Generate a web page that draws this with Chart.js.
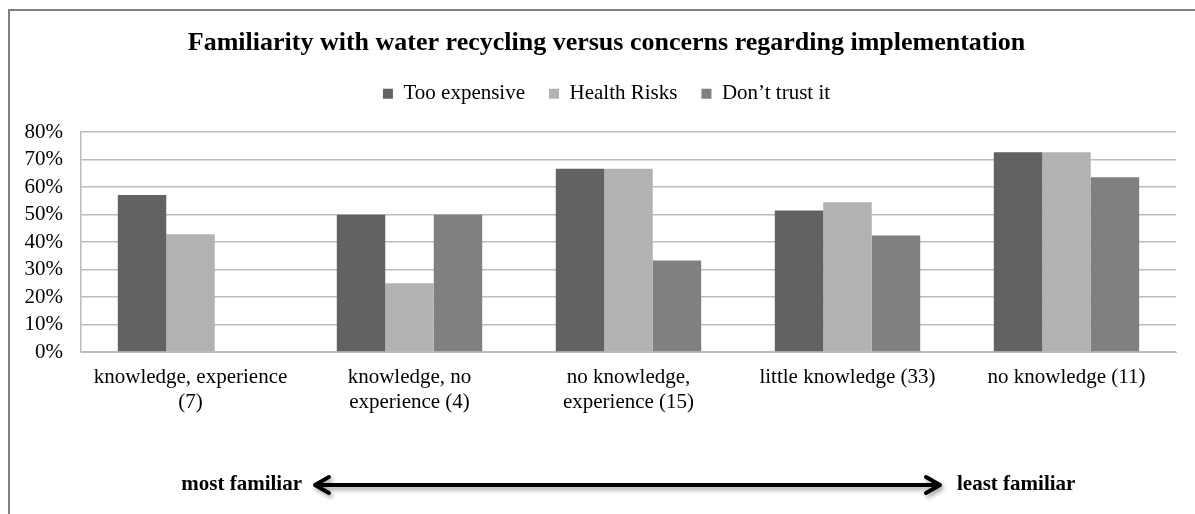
<!DOCTYPE html>
<html>
<head>
<meta charset="utf-8">
<title>Familiarity with water recycling</title>
<script src="https://cdn.jsdelivr.net/npm/chart.js@4.4.1/dist/chart.umd.min.js"></script>
<style>
  body { margin: 0; background: #fff; }
  #wrap { position: relative; width: 1195px; height: 514px; }
</style>
</head>
<body>
<div id="wrap"><canvas id="familiarity"></canvas></div>
<script>
// groups of respondents, number in brackets = group size
var groups = [
  ['knowledge, experience', '(7)'],
  ['knowledge, no', 'experience (4)'],
  ['no knowledge,', 'experience (15)'],
  'little knowledge (33)',
  'no knowledge (11)'
];

// share of each group naming the concern (%)
var tooExpensive = [57.1, 50.0, 66.7, 51.5, 72.7];
var healthRisks  = [42.9, 25.0, 66.7, 54.5, 72.7];
var dontTrust    = [0.0, 50.0, 33.3, 42.4, 63.6];

// y axis: 0% .. 80% in steps of 10
var yMin = 0, yMax = 80, yStep = 10;

var serif = "'Liberation Serif', 'Times New Roman', serif";
var gridGray = '#bcbcbc';

// frame round the chart and the familiarity arrow underneath
var frameAndArrow = {
  id: 'frameAndArrow',
  beforeLayout: function(chart) {
    // leave a gap between legend and plot
    var lg = chart.legend;
    if (lg && !lg._gapAdded) {
      var fit = lg.fit;
      lg.fit = function() { fit.call(lg); lg.height += 18; };
      lg._gapAdded = true;
    }
  },
  beforeDraw: function(chart) {
    var ctx = chart.ctx;
    ctx.save();
    ctx.strokeStyle = '#808080';
    ctx.lineWidth = 2;
    ctx.beginPath();
    ctx.moveTo(9, chart.height);
    ctx.lineTo(9, 10);
    ctx.lineTo(chart.width, 10);
    ctx.stroke();
    ctx.restore();
  },
  afterDraw: function(chart) {
    var ctx = chart.ctx;
    var y = 485, x1 = 313, x2 = 942;
    ctx.save();
    ctx.shadowColor = 'rgba(0,0,0,0.35)';
    ctx.shadowBlur = 4;
    ctx.shadowOffsetX = 2;
    ctx.shadowOffsetY = 3;
    ctx.strokeStyle = '#000';
    ctx.lineWidth = 4;
    ctx.lineCap = 'round';
    ctx.lineJoin = 'round';
    ctx.beginPath();
    ctx.moveTo(x1 + 2, y); ctx.lineTo(x2 - 2, y);
    ctx.moveTo(x1 + 16, y - 8); ctx.lineTo(x1 + 2, y); ctx.lineTo(x1 + 16, y + 8);
    ctx.moveTo(x2 - 16, y - 8); ctx.lineTo(x2 - 2, y); ctx.lineTo(x2 - 16, y + 8);
    ctx.stroke();
    ctx.restore();

    ctx.save();
    ctx.fillStyle = '#000';
    ctx.font = 'bold 21px ' + serif;
    ctx.textBaseline = 'middle';
    ctx.textAlign = 'right';
    ctx.fillText('most familiar', 302, y);
    ctx.textAlign = 'left';
    ctx.fillText('least familiar', 957, y);
    ctx.restore();
  }
};

var ctx = document.getElementById('familiarity').getContext('2d');

var myChart = new Chart(ctx, {
  type: 'bar',
  data: {
    labels: groups,
    datasets: [
      { label: 'Too expensive', data: tooExpensive, backgroundColor: '#626262' },
      { label: 'Health Risks',  data: healthRisks,  backgroundColor: '#b2b2b2' },
      { label: 'Don\u2019t trust it', data: dontTrust, backgroundColor: '#808080' }
    ]
  },
  options: {
    responsive: true,
    maintainAspectRatio: false,
    animation: false,
    layout: { padding: { top: 10, left: 18, right: 0, bottom: 0 } },
    datasets: {
      bar: { barPercentage: 1.0, categoryPercentage: 0.664 }
    },
    plugins: {
      title: {
        display: true,
        text: 'Familiarity with water recycling versus concerns regarding implementation',
        color: '#000',
        font: { family: serif, size: 26, weight: 'bold', lineHeight: 1.2 },
        padding: { top: 18, bottom: 0 }
      },
      legend: {
        position: 'top',
        labels: {
          color: '#000',
          font: { family: serif, size: 21 },
          boxWidth: 10,
          boxHeight: 10,
          padding: 24
        }
      },
      tooltip: { enabled: false }
    },
    scales: {
      x: {
        grid: { display: false, drawTicks: false },
        border: { display: true, color: gridGray },
        ticks: {
          color: '#000',
          font: { family: serif, size: 21, lineHeight: 1.2 },
          padding: 13,
          maxRotation: 0,
          autoSkip: false
        },
        afterFit: function(scale) { scale.height = 162; }
      },
      y: {
        min: yMin,
        max: yMax,
        grid: { color: gridGray, lineWidth: 1.5, drawTicks: false },
        border: { display: true, color: gridGray, width: 1.5 },
        ticks: {
          stepSize: yStep,
          color: '#000',
          font: { family: serif, size: 21 },
          padding: 18,
          autoSkip: false,
          callback: function(v) { return v + '%'; }
        },
        afterFit: function(scale) { scale.width = 63; }
      },
      // empty strip on the right so the plot stops short of the edge
      yRight: {
        position: 'right',
        min: yMin,
        max: yMax,
        grid: { display: false, drawTicks: false },
        border: { display: false },
        ticks: { display: false },
        afterFit: function(scale) { scale.width = 19; }
      }
    }
  },
  plugins: [frameAndArrow]
});
</script>
</body>
</html>
